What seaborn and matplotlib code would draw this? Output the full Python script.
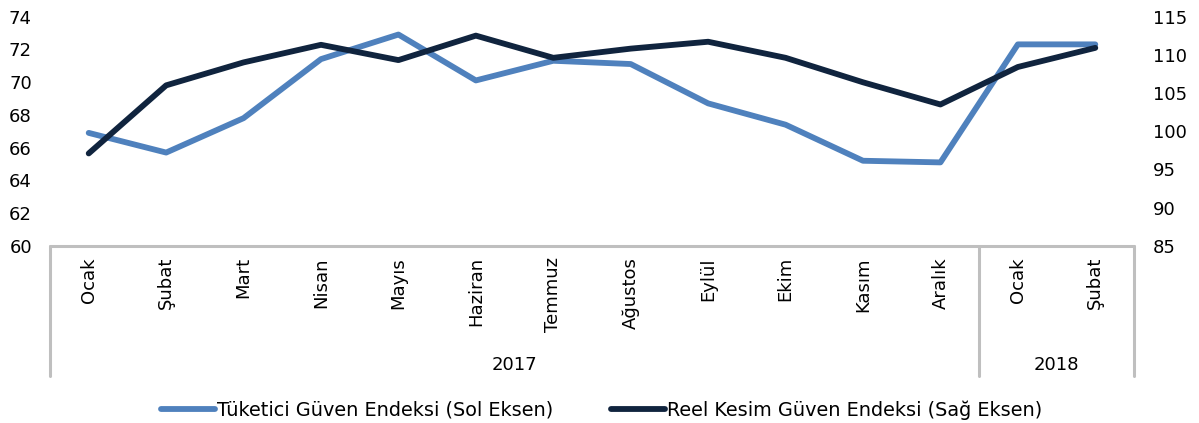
import numpy as np
import pandas as pd
import matplotlib
matplotlib.use("Agg")
import matplotlib.pyplot as plt
import seaborn as sns

months = ["Ocak", "Şubat", "Mart", "Nisan", "Mayıs", "Haziran", "Temmuz",
          "Ağustos", "Eylül", "Ekim", "Kasım", "Aralık", "Ocak", "Şubat"]
years = ["2017", "2018"]
year_counts = [12, 2]
tuketici = [66.9, 65.7, 67.8, 71.4, 72.9, 70.1, 71.3, 71.1, 68.7, 67.4, 65.2, 65.1, 72.3, 72.3]
reel_kesim = [97.1, 106.0, 109.0, 111.3, 109.3, 112.5, 109.6, 110.8, 111.7, 109.6, 106.4, 103.5, 108.4, 110.9]

blue = "#4F81BD"
navy = "#10243E"
grid_gray = "#BFBFBF"

df = pd.DataFrame({"pos": np.arange(len(months)), "tuketici": tuketici, "reel": reel_kesim})

sns.set_style("white")
plt.rcParams["font.family"] = ["DejaVu Sans"]
plt.rcParams["text.color"] = "black"
plt.rcParams["xtick.color"] = "black"
plt.rcParams["ytick.color"] = "black"
fs = 13

fig = plt.figure(figsize=(11.99, 4.23), dpi=100)
ax = fig.add_axes([50 / 1199, 1 - 246 / 423, 1084 / 1199, 229.5 / 423])
ax2 = ax.twinx()

sns.lineplot(data=df, x="pos", y="tuketici", ax=ax, color=blue, lw=4.2, zorder=3)
sns.lineplot(data=df, x="pos", y="reel", ax=ax2, color=navy, lw=4.2, zorder=3)

ax.set_xlim(-0.5, len(months) - 0.5)
ax.set_ylim(60, 74)
ax2.set_ylim(85, 115)
ax.set_yticks(range(60, 75, 2))
ax2.set_yticks(range(85, 116, 5))
ax.set_xticks(df["pos"])
ax.set_xticklabels(months, rotation=90, fontsize=fs)
ax.tick_params(axis="x", length=0, pad=8)
ax.tick_params(axis="y", length=0, pad=13, labelsize=fs)
ax2.tick_params(axis="y", length=0, pad=13.5, labelsize=fs)
ax.set_xlabel("")
ax.set_ylabel("")
ax2.set_ylabel("")

for a in (ax, ax2):
    for s in a.spines.values():
        s.set_visible(False)

# category box under the plot
trans = ax.get_xaxis_transform()
box_bottom = -130 / 229.5
ax.plot([-0.5, len(months) - 0.5], [0, 0], transform=trans, color=grid_gray, lw=2.2, clip_on=False)
edges = [-0.5] + list(np.cumsum(year_counts) - 0.5)
for e in edges:
    ax.plot([e, e], [0, box_bottom], transform=trans, color=grid_gray, lw=2.2, clip_on=False)
start = -0.5
for yr, n in zip(years, year_counts):
    ax.text(start + n / 2, -119 / 229.5, yr, transform=trans, ha="center", va="center", fontsize=fs)
    start += n

handles = [plt.Line2D([], [], color=blue, lw=4.2, solid_capstyle="round"),
           plt.Line2D([], [], color=navy, lw=4.2, solid_capstyle="round")]
fig.legend(handles, ["Tüketici Güven Endeksi (Sol Eksen)", "Reel Kesim Güven Endeksi (Sağ Eksen)"],
           loc="center", bbox_to_anchor=(0.502, 0.031), ncol=2, frameon=False, fontsize=13.9,
           handlelength=2.8, handletextpad=0.1, columnspacing=3.0)

plt.savefig("out.png", dpi=100)
plt.close()
